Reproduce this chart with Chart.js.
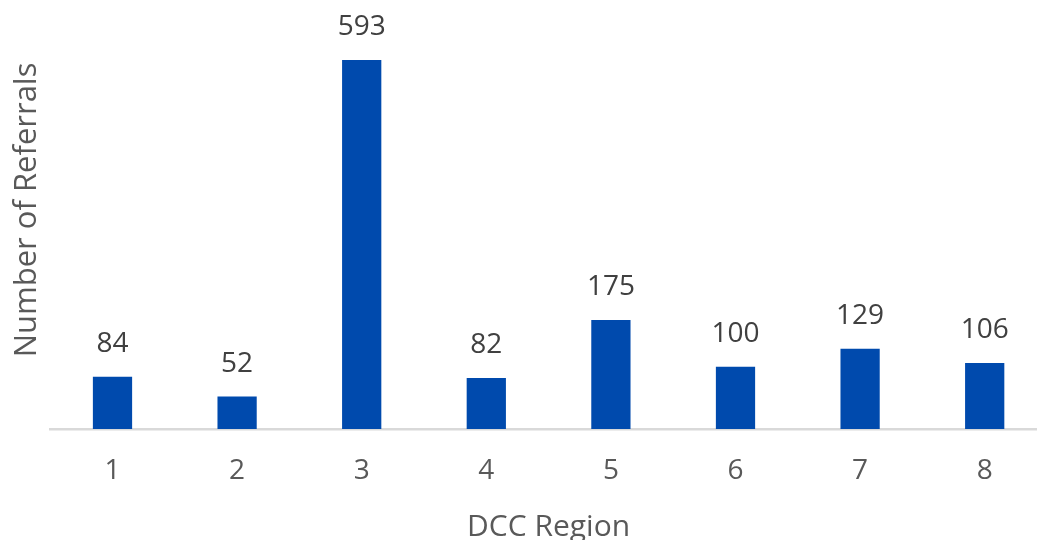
<!DOCTYPE html>
<html>
<head>
<meta charset="utf-8">
<script src="https://cdn.jsdelivr.net/npm/chart.js@4.4.1/dist/chart.umd.min.js"></script>
<style>
  html, body { margin: 0; padding: 0; background: #fff; overflow: hidden; }
  #wrap { width: 1047px; height: 549px; position: relative; margin-top: -9px; }
</style>
</head>
<body>
<div id="wrap"><canvas id="c" width="1047" height="549"></canvas></div>
<script>
const categories = ['1', '2', '3', '4', '5', '6', '7', '8'];
const referrals = [84, 52, 593, 82, 175, 100, 129, 106];
const xTitle = 'DCC Region';
const yTitle = 'Number of Referrals';

const FONT = '"Open Sans", sans-serif';

const valueLabels = {
  id: 'valueLabels',
  afterDatasetsDraw(chart) {
    const ctx = chart.ctx;
    const meta = chart.getDatasetMeta(0);
    ctx.save();
    ctx.font = '28px ' + FONT;
    ctx.fillStyle = '#404040';
    ctx.textAlign = 'center';
    ctx.textBaseline = 'alphabetic';
    meta.data.forEach((bar, i) => {
      ctx.fillText(String(referrals[i]), bar.x, bar.y - 25);
    });
    ctx.restore();
  }
};

new Chart(document.getElementById('c'), {
  type: 'bar',
  data: {
    labels: categories,
    datasets: [{
      data: referrals,
      backgroundColor: '#004AAD',
      borderWidth: 0,
      barPercentage: 0.315,
      categoryPercentage: 1.0
    }]
  },
  options: {
    responsive: false,
    animation: false,
    layout: { padding: { top: 0, left: 5, right: 0, bottom: -2 } },
    plugins: { legend: { display: false }, tooltip: { enabled: false } },
    scales: {
      x: {
        grid: { display: false, drawTicks: false },
        border: { display: true, color: '#d9d9d9', width: 2.5 },
        ticks: { color: '#595959', font: { family: FONT, size: 28, lineHeight: 0.95 }, padding: 29 },
        title: { display: true, text: xTitle, color: '#595959', font: { family: FONT, size: 30, lineHeight: 0.95 }, padding: { top: 0, bottom: 0 } }
      },
      y: {
        min: 0, max: 704,
        grid: { display: false, drawTicks: false },
        border: { display: false },
        ticks: { display: false },
        title: { display: true, text: yTitle, color: '#595959', font: { family: FONT, size: 31 }, padding: 4 }
      }
    }
  },
  plugins: [valueLabels]
});
</script>
</body>
</html>
